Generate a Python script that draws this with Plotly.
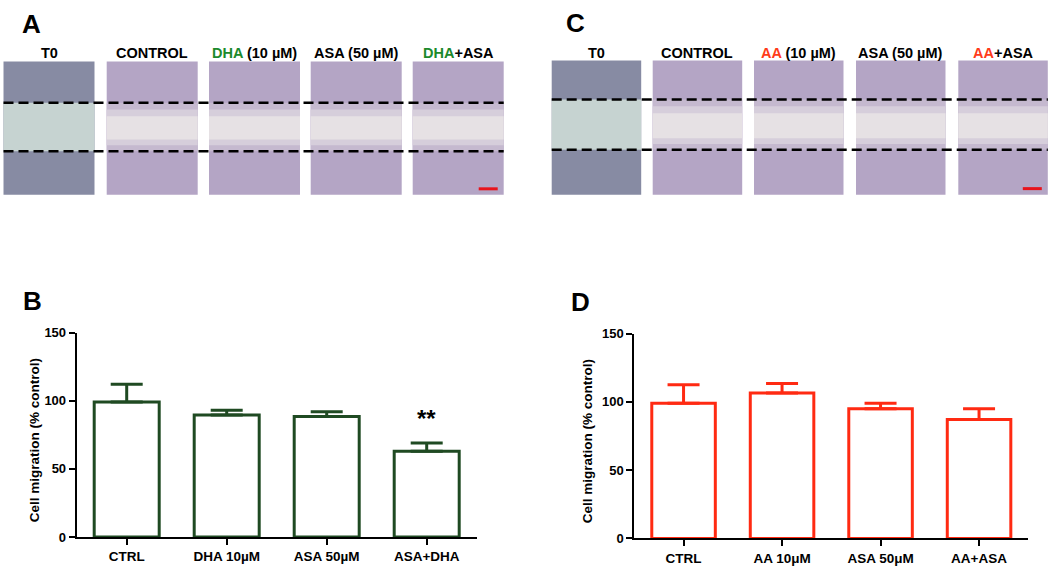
import plotly.graph_objects as go

W, H = 1052, 574

# bar chart data
cats_b = ["CTRL", "DHA 10µM", "ASA 50µM", "ASA+DHA"]
vals_b = [99, 89.5, 88.5, 63]
err_b = [13, 3.5, 3.5, 6]

cats_d = ["CTRL", "AA 10μM", "ASA 50μM", "AA+ASA"]
vals_d = [99, 106.5, 95, 87]
err_d = [13.5, 7, 4, 8]

# column titles of the micrograph strips
titles_a = ["T0", "CONTROL", "DHA (10 µM)", "ASA (50 µM)", "DHA+ASA"]
titles_c = ["T0", "CONTROL", "AA (10 µM)", "ASA (50 µM)", "AA+ASA"]

GREEN = "#1f4a22"
GREEN_TXT = "#1c8a2c"
RED = "#ff2a12"
RED_TXT = "#ff3b1a"
FONT = "Liberation Sans, Arial, sans-serif"


def px(x):
    return x / W


def py(y):
    return 1 - y / H


fig = go.Figure()

# --- bar panels ---
fig.add_trace(go.Bar(
    x=cats_b, y=vals_b, width=0.65,
    marker=dict(color="white", line=dict(color=GREEN, width=3)),
    error_y=dict(type="data", symmetric=False, array=err_b, arrayminus=[0] * 4,
                 color=GREEN, thickness=3, width=16),
    xaxis="x", yaxis="y", showlegend=False))

fig.add_trace(go.Bar(
    x=cats_d, y=vals_d, width=0.645,
    marker=dict(color="white", line=dict(color=RED, width=3)),
    error_y=dict(type="data", symmetric=False, array=err_d, arrayminus=[0] * 4,
                 color=RED, thickness=3, width=16),
    xaxis="x2", yaxis="y2", showlegend=False))

xcommon = dict(showline=True, linecolor="black", linewidth=2, ticks="outside",
               tickcolor="black", tickwidth=2, ticklen=6, showgrid=False, zeroline=False,
               range=[-0.5, 3.5],
               tickfont=dict(family=FONT, size=13.5, color="black", weight="bold"))
ycommon = dict(showline=True, linecolor="black", linewidth=2, ticks="outside",
               tickcolor="black", tickwidth=2, ticklen=6, showgrid=False, zeroline=False,
               range=[0, 150], tickvals=[0, 50, 100, 150],
               tickfont=dict(family=FONT, size=13, color="black", weight="bold"))

fig.update_layout(
    xaxis=dict(domain=[px(76.7), px(476.7)], anchor="y", **xcommon),
    yaxis=dict(domain=[py(544.3), py(334.3)], anchor="x", **ycommon),
    xaxis2=dict(domain=[px(634.3), px(1028.3)], anchor="y2", **xcommon),
    yaxis2=dict(domain=[py(545.7), py(335.3)], anchor="x2", **ycommon),
)

annotations = []
shapes = []


def label(xc, yc, text, size, color="black", angle=0):
    annotations.append(dict(x=px(xc), y=py(yc), xref="paper", yref="paper", text=text,
                            textangle=angle, showarrow=False, xanchor="center",
                            yanchor="middle",
                            font=dict(family=FONT, size=size, color=color, weight="bold")))


# y titles
label(34, 445, "Cell migration (% control)", 13.5, angle=-90)
label(587, 446, "Cell migration (% control)", 13.5, angle=-90)

# significance mark
annotations.append(dict(x=3, y=87, xref="x", yref="y", text="**", showarrow=False,
                        xanchor="center", yanchor="middle",
                        font=dict(family=FONT, size=24, color="black", weight="bold")))

# panel letters
for letter, (xc, yc) in zip("ABCD", [(31, 17), (32, 302), (575, 16), (580, 303)]):
    label(xc, yc, letter, 26)


# --- micrograph strips (drawn as flat tinted blocks) ---
def rect(x0, x1, y0, y1, color):
    shapes.append(dict(type="rect", xref="paper", yref="paper", x0=px(x0), x1=px(x1),
                       y0=py(y1), y1=py(y0), fillcolor=color, line_width=0, layer="below"))


def strip(lefts, width, top, bottom, dash1, dash2, titles, hl_color, hl_word, scale_y):
    for i, (x0, t) in enumerate(zip(lefts, titles)):
        x1 = x0 + width
        if i == 0:
            rect(x0, x1, top, bottom, "#878ba3")
            rect(x0, x1, dash1, dash2, "#c6d3d1")
        else:
            rect(x0, x1, top, bottom, "#b4a5c5")
            rect(x0, x1, dash1, dash2, "#c5b9cf")
            rect(x0, x1, dash1 + 7, dash2 - 6, "#d6cedb")
            rect(x0, x1, dash1 + 14, dash2 - 12, "#e6e1e4")
        txt = t
        if hl_word in t:
            txt = t.replace(hl_word, "<span style='color:%s'>%s</span>" % (hl_color, hl_word), 1)
        label(x0 + width / 2, 47.5, txt, 14.5)
    for yd in (dash1, dash2):
        shapes.append(dict(type="line", xref="paper", yref="paper", x0=px(lefts[0]),
                           x1=px(lefts[-1] + width), y0=py(yd), y1=py(yd),
                           line=dict(color="black", width=2.5, dash="10px,5px")))
    # scale bar
    xe = lefts[-1] + width - 6
    shapes.append(dict(type="line", xref="paper", yref="paper", x0=px(xe - 19), x1=px(xe),
                       y0=py(scale_y), y1=py(scale_y), line=dict(color="#e8141c", width=3)))


strip([3.5, 106.7, 209, 310.7, 412.7], 91, 56, 192.7, 98.3, 148,
      titles_a, GREEN_TXT, "DHA", 186.7)
strip([551.7, 652.7, 754, 856, 958.3], 89.5, 55, 192.7, 95, 146.7,
      titles_c, RED_TXT, "AA", 186.5)

fig.update_layout(
    width=W, height=H, margin=dict(l=0, r=0, t=0, b=0),
    paper_bgcolor="white", plot_bgcolor="white",
    annotations=annotations, shapes=shapes,
    font=dict(family=FONT, color="black"),
)

# drop the browser's default page margin so the figure sits at the window corner
fig.write_html("out.html", config={"displayModeBar": False},
               post_script="document.body.style.margin = '0';")
